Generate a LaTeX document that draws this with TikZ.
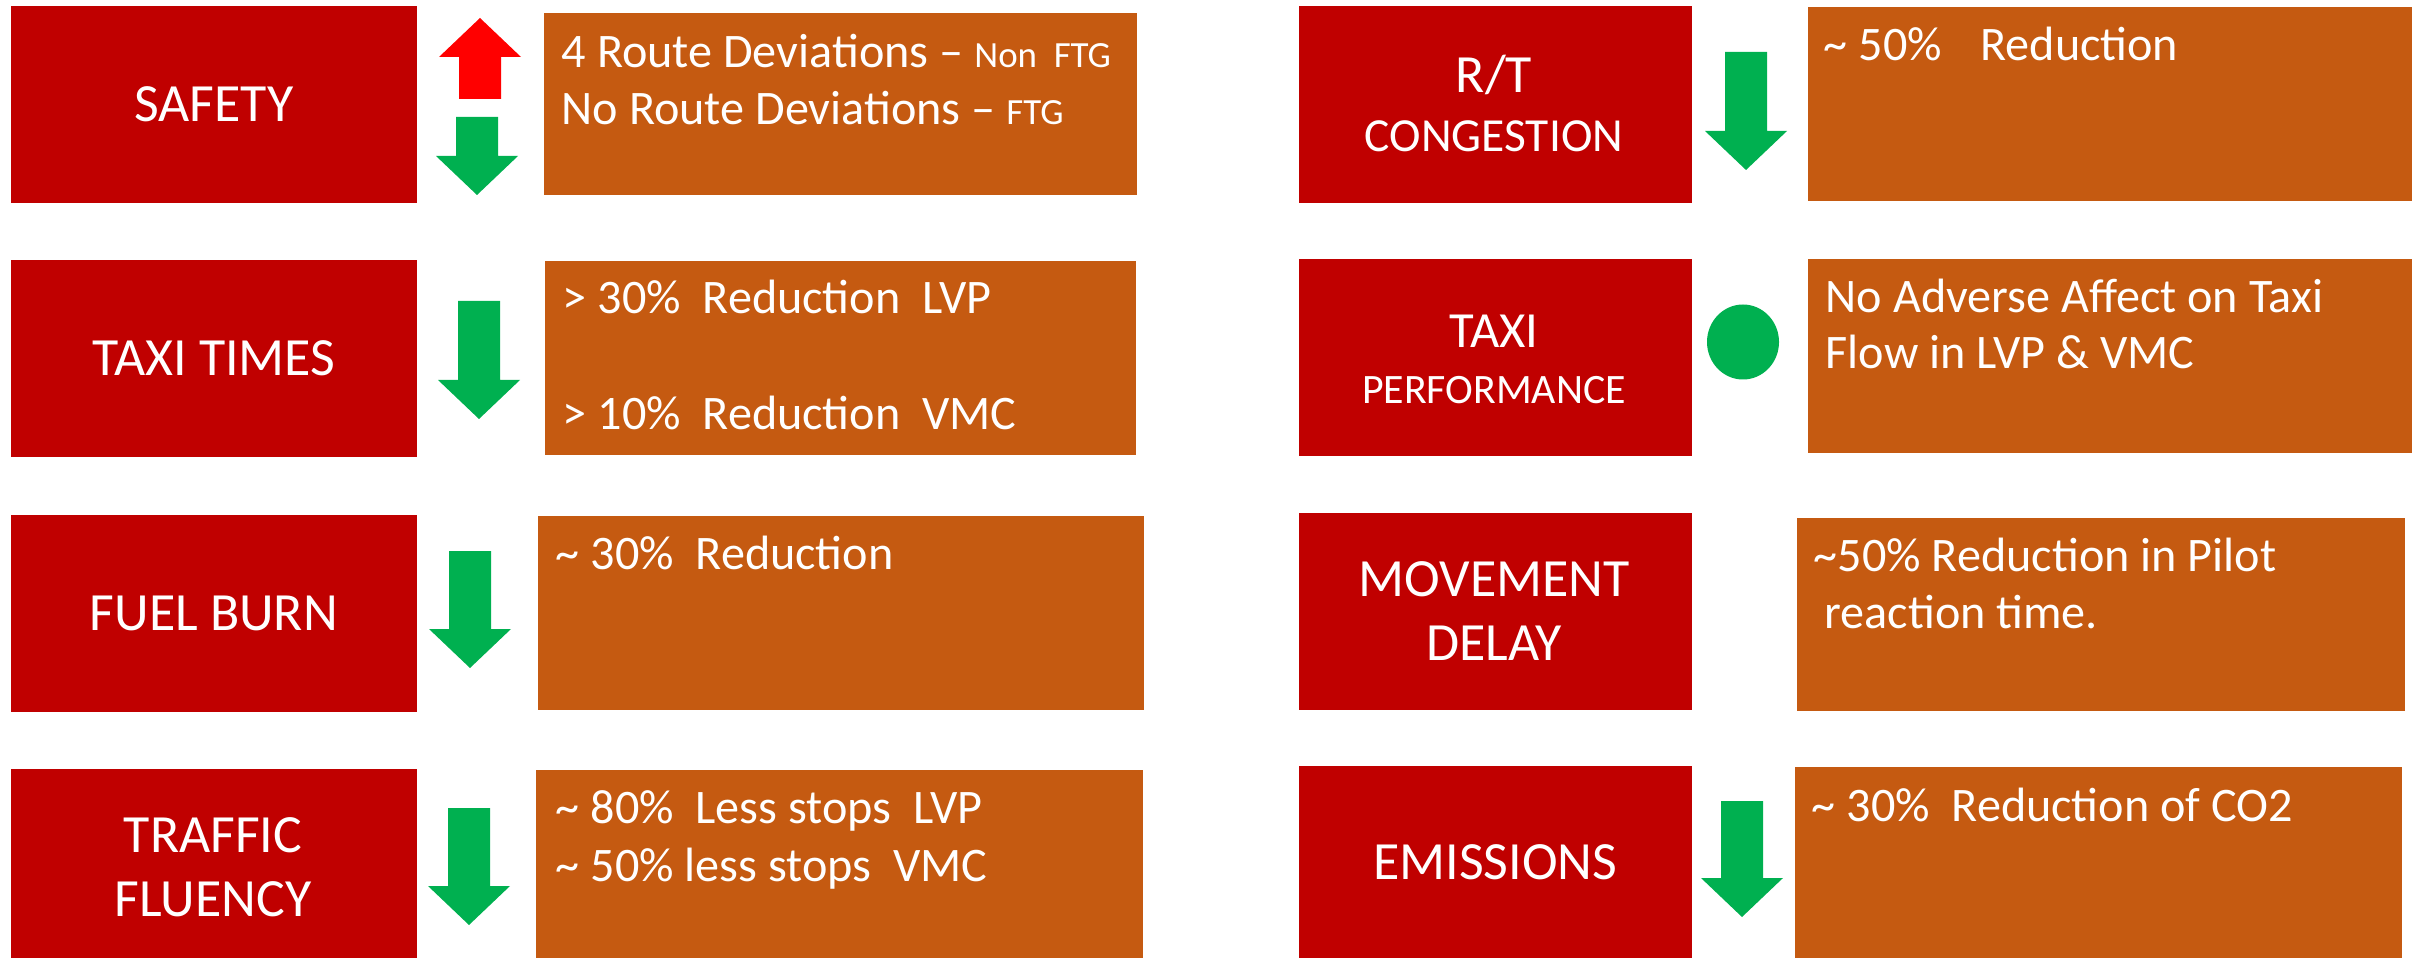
\documentclass[tikz,border=0pt]{standalone}
\usepackage{fontspec}
\setmainfont{Carlito}
\usetikzlibrary{positioning}

\definecolor{hdred}{HTML}{C00000}
\definecolor{infoorange}{HTML}{C55A11}
\definecolor{okgreen}{HTML}{00B050}
\definecolor{badred}{HTML}{FF0000}

\tikzset{
  hdbox/.style={rectangle, fill=hdred, text=white, anchor=north west, inner sep=0pt,
    align=center, font=\fontsize{15.3}{18}\selectfont},
  hdleft/.style={hdbox, minimum width=4.06cm, minimum height=1.97cm},
  hdright/.style={hdbox, minimum width=3.93cm, minimum height=1.97cm},
  hdline/.style={text=white, anchor=base, inner sep=0pt, font=\fontsize{15.3}{18}\selectfont},
  infobox/.style={rectangle, fill=infoorange, anchor=north west, inner sep=0pt},
  infoline/.style={text=white, anchor=base west, inner sep=0pt, font=\fontsize{13.7}{16}\selectfont},
  pics/arrowdown/.style={code={
    \fill[pic actions] (-21,0) -- (21,0) -- (21,#1-39) -- (41,#1-39) -- (0,#1)
      -- (-41,#1-39) -- (-21,#1-39) -- cycle;}}
}
\newcommand{\smalltag}[1]{{\fontsize{10.5}{12}\selectfont #1}}

\begin{document}
\begin{tikzpicture}[x=0.01cm, y=-0.01cm]
  \useasboundingbox (0,0) rectangle (2412,958);

  % left column
  \node[hdleft] (safety) at (10,5) {SAFETY};
  \node[hdleft] (taxitimes) at (10,259) {TAXI TIMES};
  \node[hdleft] (fuel) at (10,514) {FUEL BURN};
  \node[hdleft, minimum height=1.90cm] (traffic) at (10,768) {};
  \node[hdline] (trafficA) at (213,852) {TRAFFIC};
  \node[hdline] (trafficB) at (213,916) {FLUENCY};

  \node[infobox, minimum width=5.93cm, minimum height=1.82cm] (safetyInfo) at (543,12) {};
  \node[infoline] (safetyA) at (561,68) {4 Route Deviations -- \smalltag{Non\ \ FTG}};
  \node[infoline] (safetyB) at (561,125) {No Route Deviations -- \smalltag{FTG}};

  \node[infobox, minimum width=5.91cm, minimum height=1.94cm] (taxiInfo) at (544,260) {};
  \node[infoline] (taxiA) at (562,314) {> 30\%\ \ Reduction\ \ LVP};
  \node[infoline] (taxiB) at (562,430) {> 10\%\ \ Reduction\ \ VMC};

  \node[infobox, minimum width=6.06cm, minimum height=1.94cm] (fuelInfo) at (537,515) {};
  \node[infoline] (fuelA) at (555,570) {\textasciitilde{} 30\%\ \ Reduction};

  \node[infobox, minimum width=6.07cm, minimum height=1.89cm] (trafficInfo) at (535,769) {};
  \node[infoline] (trafficC) at (555,823) {\textasciitilde{} 80\%\ \ Less stops\ \ LVP};
  \node[infoline] (trafficD) at (555,881) {\textasciitilde{} 50\% less stops\ \ VMC};

  \pic[badred, rotate=180] at (480,99) {arrowdown=81};
  \pic[okgreen] at (477,117) {arrowdown=78};
  \pic[okgreen] at (479,301) {arrowdown=118};
  \pic[okgreen] at (470,551) {arrowdown=117};
  \pic[okgreen] at (469,808) {arrowdown=117};

  % right column
  \node[hdright] (congestion) at (1298,5) {};
  \node[hdline] (congA) at (1494,93) {R/T};
  \node[hdline, font=\fontsize{13.5}{16}\selectfont] (congB) at (1494,152) {CONGESTION};
  \node[hdright] (perf) at (1298,258) {};
  \node[hdline, font=\fontsize{14.4}{17}\selectfont] (perfA) at (1494,348) {TAXI};
  \node[hdline, font=\fontsize{11.9}{14}\selectfont] (perfB) at (1494,403) {PERFORMANCE};
  \node[hdright] (delay) at (1298,512) {};
  \node[hdline] (delayA) at (1494,596) {MOVEMENT};
  \node[hdline] (delayB) at (1494,660) {DELAY};
  \node[hdright, minimum height=1.93cm] (emissions) at (1298,765) {EMISSIONS};

  \node[infobox, minimum width=6.05cm, minimum height=1.94cm] (congInfo) at (1807,6) {};
  \node[infoline] (congC) at (1823,61) {\textasciitilde{} 50\%\hspace{0.8em}Reduction};

  \node[infobox, minimum width=6.05cm, minimum height=1.94cm] (perfInfo) at (1807,258) {};
  \node[infoline] (perfC) at (1825,313) {No Adverse Affect on Taxi};
  \node[infoline] (perfD) at (1825,369) {Flow in LVP \& VMC};

  \node[infobox, minimum width=6.08cm, minimum height=1.93cm] (delayInfo) at (1796,517) {};
  \node[infoline] (delayC) at (1813,571) {\textasciitilde50\% Reduction in Pilot};
  \node[infoline] (delayD) at (1813,628) {\ reaction time.};

  \node[infobox, minimum width=6.07cm, minimum height=1.92cm] (emisInfo) at (1794,766) {};
  \node[infoline] (emisA) at (1811,821) {\textasciitilde{} 30\%\ \ Reduction of CO2};

  \pic[okgreen] at (1746,52) {arrowdown=118};
  \fill[okgreen] (1743,342) ellipse (36 and 37.5);
  \pic[okgreen] at (1742,801) {arrowdown=116};
\end{tikzpicture}
\end{document}
